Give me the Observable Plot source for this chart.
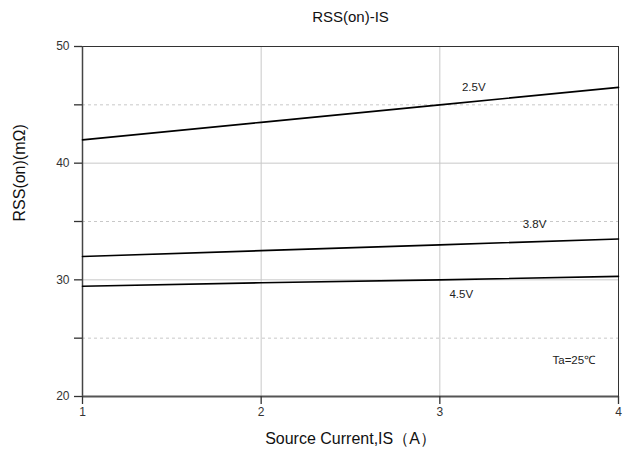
<!DOCTYPE html>
<html><head><meta charset="utf-8">
<script src="https://cdn.jsdelivr.net/npm/d3@7"></script>
<script src="https://cdn.jsdelivr.net/npm/@observablehq/plot@0.6"></script>
<style>body{margin:0;background:#fff;} svg{display:block;}</style>
</head><body><div id="chart"></div>
<script>
const current = [1, 2, 3, 4];
const v25 = [42.0, 43.5, 45.0, 46.5];
const v38 = [32.0, 32.5, 33.0, 33.5];
const v45 = [29.45, 29.75, 30.0, 30.3];
const seriesNames = ["2.5V", "3.8V", "4.5V"];
const labelPos = [[3.19, 46.5], [3.53, 34.8], [3.12, 28.8]];
const xTicks = [1, 2, 3, 4];
const yTicks = [20, 25, 30, 35, 40, 45, 50];
const yLabeled = [20, 30, 40, 50];
const gridSolidY = [30, 40];
const gridDashY = [25, 35, 45];
const gridX = [2, 3];
const note = {x: 3.75, y: 23.1, text: "Ta=25℃"};

const rows = [];
[v25, v38, v45].forEach((arr, i) => arr.forEach((v, j) => rows.push({s: seriesNames[i], x: current[j], y: v})));
const labels = seriesNames.map((s, i) => ({s, x: labelPos[i][0], y: labelPos[i][1]}));

const font = "Liberation Sans, Arial, sans-serif";
const chart = Plot.plot({
  width: 627, height: 457,
  marginLeft: 82, marginRight: 9, marginTop: 46, marginBottom: 61,
  style: {fontFamily: font, background: "#fff"},
  x: {domain: [1, 4]},
  y: {domain: [20, 50]},
  marks: [
    Plot.ruleX(gridX, {stroke: "#c8c8c8", strokeWidth: 1}),
    Plot.ruleY(gridSolidY, {stroke: "#c8c8c8", strokeWidth: 1}),
    Plot.ruleY(gridDashY, {stroke: "#c8c8c8", strokeWidth: 1, strokeDasharray: "3,3"}),
    Plot.frame({stroke: "#333", strokeWidth: 1}),
    Plot.ruleX([1], {stroke: "#444", strokeWidth: 1.5}),
    Plot.ruleY([20], {stroke: "#555", strokeWidth: 2}),
    Plot.axisX({ticks: xTicks, tickSize: 8, tickPadding: 3, tickFormat: d => d, fontSize: 12, color: "#333", label: null, stroke: "#333", strokeWidth: 1.3}),
    Plot.axisY({ticks: yTicks, tickSize: 8, tickPadding: 5, tickFormat: d => yLabeled.includes(d) ? d : "", fontSize: 12, color: "#333", label: null, strokeWidth: 1.3}),
    Plot.line(rows, {x: "x", y: "y", z: "s", stroke: "#000", strokeWidth: 1.6}),
    Plot.text(labels, {x: "x", y: "y", text: "s", fontSize: 11.5, fill: "#222"}),
    Plot.text([note], {x: "x", y: "y", text: "text", fontSize: 11.5, fill: "#222"}),
    Plot.text(["RSS(on)-IS"], {frameAnchor: "top", dy: -35, fontSize: 15, fill: "#111"}),
    Plot.text(["Source Current,IS（A）"], {frameAnchor: "bottom", dy: 47, fontSize: 16, fill: "#111"}),
    Plot.text(["RSS(on)(mΩ)"], {frameAnchor: "left", dx: -63, rotate: -90, fontSize: 16, fill: "#111"})
  ]
});
document.getElementById("chart").appendChild(chart);
</script>
</body></html>
